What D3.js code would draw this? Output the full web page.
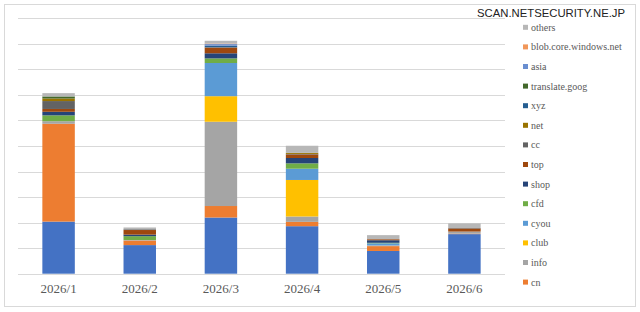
<!DOCTYPE html>
<html>
<head>
<meta charset="utf-8">
<script src="https://cdn.jsdelivr.net/npm/d3@7"></script>
<style>
  body { margin: 0; background: #fff; }
</style>
</head>
<body>
<div id="d3-container"></div>
<script>
const months = ['2026/1', '2026/2', '2026/3', '2026/4', '2026/5', '2026/6'];

// one array per domain, bottom of stack first
const com = [20.4, 11.2, 22, 18.6, 8.9, 15.5];
const cn = [38.3, 1.8, 4.5, 1.7, 1.9, 0.2];
const info = [1.0, 0.2, 33, 2.1, 0.3, 0.8];
const club = [0, 0, 10, 14.3, 0, 0];
const cyou = [0, 0, 13, 4.4, 0.8, 0];
const cfd = [2.3, 1.5, 1.8, 2.1, 0.2, 0];
const shop = [1.4, 0.6, 2, 2.1, 1.0, 0];
const top_ = [1.1, 1.8, 2.2, 1.4, 0.4, 1.2];
const cc = [3.1, 0.3, 0.2, 0.2, 0, 0.2];
const net = [1.0, 0, 0, 0.4, 0, 0];
const xyz = [0, 0, 0.6, 0, 0, 0];
const translate = [0.8, 0, 0, 0, 0, 0];
const asia = [0, 0, 0.6, 0, 0, 0];
const blob = [0, 0, 0.2, 0, 0, 0];
const others = [1.3, 0.7, 1.1, 2.8, 1.6, 1.8];

const seriesNames = ['com', 'cn', 'info', 'club', 'cyou', 'cfd', 'shop', 'top', 'cc', 'net',
  'xyz', 'translate.goog', 'asia', 'blob.core.windows.net', 'others'];
const seriesValues = [com, cn, info, club, cyou, cfd, shop, top_, cc, net,
  xyz, translate, asia, blob, others];
const colors = ['#4472C4', '#ED7D31', '#A5A5A5', '#FFC000', '#5B9BD5', '#70AD47', '#264478',
  '#9E480E', '#636363', '#997300', '#255E91', '#43682B', '#698ED0', '#F1975A', '#B7B7B7'];
const legendNames = seriesNames.slice(1).reverse();

const yTicks = d3.range(0, 101, 10);

const width = 640;
const height = 312;
const margin = { top: 18.3, bottom: 38.3, left: 18, right: 135 };

const table = months.map((m, i) => {
  const row = { month: m };
  seriesNames.forEach((s, j) => { row[s] = seriesValues[j][i]; });
  return row;
});

const stacked = d3.stack().keys(seriesNames)(table);

const svg = d3.select('#d3-container')
  .append('svg')
  .attr('width', width)
  .attr('height', height)
  .style('font-family', '"Liberation Serif", "DejaVu Serif", serif');

svg.append('rect')
  .attr('x', 4.5).attr('y', 4.5)
  .attr('width', 631).attr('height', 302)
  .attr('fill', '#fff')
  .attr('stroke', '#d9d9d9');

const x = d3.scaleBand()
  .domain(months)
  .range([margin.left, width - margin.right])
  .paddingInner(0.6)
  .paddingOuter(0.3);

const y = d3.scaleLinear()
  .domain([0, 100])
  .range([height - margin.bottom, margin.top]);

const color = d3.scaleOrdinal().domain(seriesNames).range(colors);

// gridlines
svg.append('g')
  .selectAll('line')
  .data(yTicks)
  .join('line')
    .attr('x1', margin.left)
    .attr('x2', width - margin.right)
    .attr('y1', d => Math.round(y(d)) + 0.5)
    .attr('y2', d => Math.round(y(d)) + 0.5)
    .attr('stroke', '#d9d9d9');

svg.append('g')
  .selectAll('g')
  .data(stacked)
  .join('g')
    .attr('fill', d => color(d.key))
  .selectAll('rect')
  .data(d => d)
  .join('rect')
    .attr('x', d => x(d.data.month))
    .attr('y', d => y(d[1]))
    .attr('height', d => y(d[0]) - y(d[1]))
    .attr('width', x.bandwidth());

function xAxis(g) {
  g.attr('transform', `translate(0,${y(0)})`)
    .call(d3.axisBottom(x).tickSize(0).tickPadding(10))
    .attr('font-size', '13px')
    .attr('font-family', '"Liberation Serif", "DejaVu Serif", serif')
    .call(g => g.select('.domain').remove())
    .call(g => g.selectAll('text').attr('fill', '#595959'));
}

svg.append('g').call(xAxis);

// legend
const legend = svg.append('g')
  .selectAll('g')
  .data(legendNames)
  .join('g')
    .attr('transform', (d, i) => `translate(523,${27.3 + i * 19.6})`);

legend.append('rect')
  .attr('x', 0).attr('y', -2.5)
  .attr('width', 5).attr('height', 5)
  .attr('fill', d => color(d));

legend.append('text')
  .attr('x', 8)
  .attr('dy', '0.35em')
  .attr('font-size', '10px')
  .attr('fill', '#595959')
  .text(d => d);

svg.append('text')
  .attr('x', 625)
  .attr('y', 16.5)
  .attr('text-anchor', 'end')
  .attr('font-family', '"Liberation Sans", Arial, sans-serif')
  .attr('font-size', '11.3px')
  .attr('fill', '#222')
  .attr('stroke', '#fff')
  .attr('stroke-width', 2)
  .attr('paint-order', 'stroke')
  .text('SCAN.NETSECURITY.NE.JP');
</script>
</body>
</html>
